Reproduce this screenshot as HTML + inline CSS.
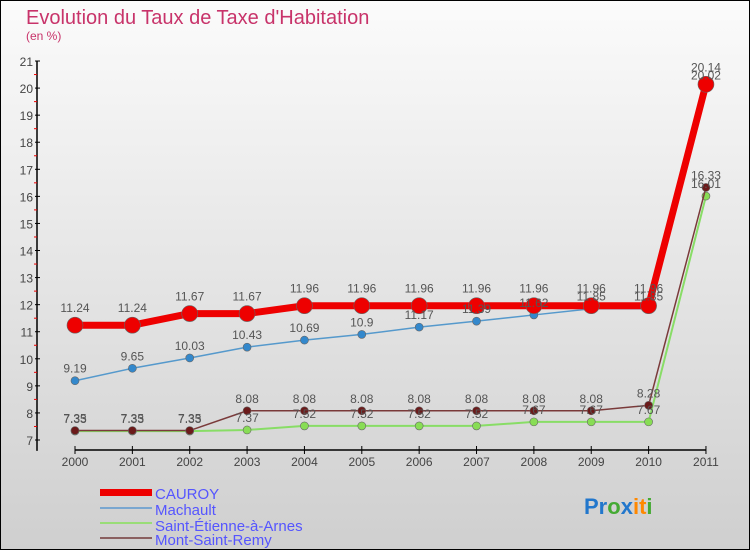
<!DOCTYPE html>
<html><head><meta charset="utf-8"><style>
body{margin:0;width:750px;height:550px;overflow:hidden;font-family:"Liberation Sans",sans-serif}
</style></head><body>
<svg id="c" width="750" height="550" xmlns="http://www.w3.org/2000/svg">
<defs><linearGradient id="bg" x1="0" y1="0" x2="0" y2="1"><stop offset="0" stop-color="#fbfbfb"/><stop offset="1" stop-color="#cfcfcf"/></linearGradient></defs>
<rect x="0.5" y="0.5" width="749" height="549" fill="url(#bg)" stroke="#000"/>
<text x="26" y="24" font-size="20" fill="#c8336a">Evolution du Taux de Taxe d'Habitation</text>
<text x="26" y="40" font-size="12" fill="#c8336a">(en %)</text>
<g id="axes"></g><g id="series"></g><g id="labels"></g>
<g>
<rect x="100" y="489" width="52" height="7" fill="#ee0000"/>
<line x1="100" y1="508" x2="152" y2="508" stroke="#7aa7d0" stroke-width="2"/>
<line x1="100" y1="523" x2="152" y2="523" stroke="#99dd77" stroke-width="2"/>
<line x1="100" y1="538" x2="152" y2="538" stroke="#8a6060" stroke-width="2"/>
<g font-size="15" fill="#5555ff">
<text x="155" y="499">CAUROY</text>
<text x="155" y="515">Machault</text>
<text x="155" y="531">Saint-Étienne-à-Arnes</text>
<text x="155" y="545">Mont-Saint-Remy</text>
</g></g>
<g font-size="22" font-weight="bold">
<text x="584" y="514"><tspan fill="#2277cc">Pr</tspan><tspan fill="#44aa33">o</tspan><tspan fill="#2277cc">x</tspan><tspan fill="#ff8800">it</tspan><tspan fill="#44aa33">i</tspan></text></g>
</svg>
<script>
const years=["2000","2001","2002","2003","2004","2005","2006","2007","2008","2009","2010","2011"];
const yTicks=[7,8,9,10,11,12,13,14,15,16,17,18,19,20,21];
const cauroy=[11.24,11.24,11.67,11.67,11.96,11.96,11.96,11.96,11.96,11.96,11.96,20.14];
const machault=[9.19,9.65,10.03,10.43,10.69,10.9,11.17,11.39,11.62,11.85,11.85,20.02];
const stEtienne=[7.33,7.33,7.33,7.37,7.52,7.52,7.52,7.52,7.67,7.67,7.67,16.01];
const montSaintRemy=[7.35,7.35,7.35,8.08,8.08,8.08,8.08,8.08,8.08,8.08,8.28,16.33];
const NS="http://www.w3.org/2000/svg";
function X(i){return 75+i*57.36;}
function Y(v){return 440-(v-7)*27.07;}
function mk(p,t,a){const e=document.createElementNS(NS,t);for(const k in a)e.setAttribute(k,a[k]);p.appendChild(e);return e;}
const ax=document.getElementById('axes');
let e=mk(ax,'line',{x1:37,y1:Y(21),x2:37,y2:Y(6.6),stroke:'#000','stroke-width':1.5});


e=mk(ax,'line',{x1:75,y1:450,x2:X(11),y2:450,stroke:'#000','stroke-width':1.5});


yTicks.forEach(v=>{mk(ax,'line',{x1:35,y1:Y(v),x2:40,y2:Y(v),stroke:'#000'});
 if(v<21)mk(ax,'line',{x1:34,y1:Y(v+0.5),x2:37,y2:Y(v+0.5),stroke:'#e00'});
 const t=mk(ax,'text',{x:33,y:Y(v)+5,'font-size':12,'text-anchor':'end',fill:'#444'});t.textContent=v;
 
 });
years.forEach((y,i)=>{mk(ax,'line',{x1:X(i),y1:446,x2:X(i),y2:454,stroke:'#000'});
 const t=mk(ax,'text',{x:X(i),y:466,'font-size':12,'text-anchor':'middle',fill:'#444'});t.textContent=y;
 
 });
const sg=document.getElementById('series'),lg=document.getElementById('labels');
function draw(vals,name,col,w,r,fill,dy){
 const g=mk(sg,'g',{});
 
 
 mk(g,'polyline',{points:vals.map((v,i)=>X(i)+','+Y(v)).join(' '),fill:'none',stroke:col,'stroke-width':w,'stroke-linejoin':'round'});
 vals.forEach((v,i)=>{const c=mk(g,'circle',{cx:X(i),cy:Y(v),r:r,fill:fill,stroke:'#666','stroke-width':0.6});
  
  
  const t=mk(lg,'text',{x:X(i),y:Y(v)-dy,'font-size':12,'text-anchor':'middle',fill:'#555'});t.textContent=v;
  
  });
}
draw(stEtienne,'saint-etienne','#88dd66',2,4,'#88dd55',8);
draw(montSaintRemy,'mont-saint-remy','#7a3a3a',1.5,4,'#6b1a1a',8);
draw(machault,'machault','#5599cc',1.5,4,'#3388cc',8);
draw(cauroy,'cauroy','#ee0000',7,8,'#ee0000',13);
</script>
</body></html>
